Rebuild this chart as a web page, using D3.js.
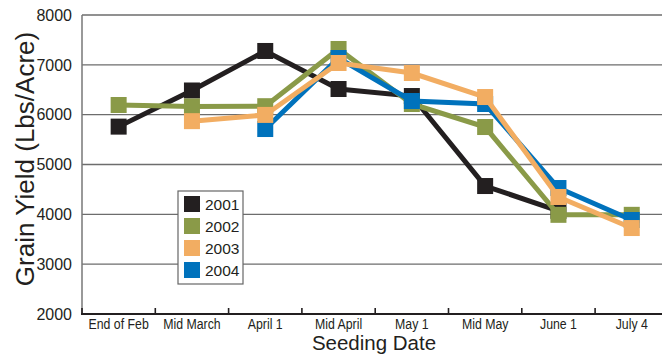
<!DOCTYPE html>
<html>
<head>
<meta charset="utf-8">
<script src="https://cdn.jsdelivr.net/npm/d3@7/dist/d3.min.js"></script>
<style>
  html, body { margin: 0; padding: 0; background: #fff; }
  svg { display: block; font-family: "Liberation Sans", Arial, sans-serif; }
</style>
</head>
<body>
<svg id="chart" width="662" height="354"></svg>
<script>
// Seeding dates on the x axis
const seedingDates = ["End of Feb", "Mid March", "April 1", "Mid April", "May 1", "Mid May", "June 1", "July 4"];

// Grain yield (lbs/acre) per year; null = not seeded on that date
const yield2001 = [5760, 6485, 7278, 6515, 6374, 4568, 4070, null];
const yield2002 = [6194, 6164, 6170, 7318, 6214, 5752, 3990, 3990];
const yield2003 = [null, 5870, 5995, 7037, 6836, 6354, 4348, 3725];
const yield2004 = [null, null, 5712, 7137, 6274, 6214, 4528, 3886];

const years = ["2001", "2002", "2003", "2004"];
const yTicks = [2000, 3000, 4000, 5000, 6000, 7000, 8000];

const series = [
  { name: years[0], values: yield2001, color: "#231f20" },
  { name: years[1], values: yield2002, color: "#8a9a48" },
  { name: years[2], values: yield2003, color: "#f2ad62" },
  { name: years[3], values: yield2004, color: "#0072bc" }
];
// paint order: orange sits on top of blue
const drawOrder = [series[0], series[1], series[3], series[2]];

const svg = d3.select("#chart");
const plotLeft = 82, plotRight = 668.4, plotTop = 15, plotBottom = 314;

const x = d3.scaleBand().domain(seedingDates).range([plotLeft, plotRight]);
const y = d3.scaleLinear().domain([2000, 8000]).range([plotBottom, plotTop]);

// horizontal grid lines
svg.append("g")
  .selectAll("line")
  .data(yTicks.filter(t => t > 2000))
  .join("line")
  .attr("x1", plotLeft).attr("x2", 662)
  .attr("y1", d => y(d)).attr("y2", d => y(d))
  .attr("stroke", "#6d6d6d").attr("stroke-width", 1.3);

// left axis line
svg.append("line")
  .attr("x1", plotLeft).attr("x2", plotLeft)
  .attr("y1", plotTop).attr("y2", plotBottom)
  .attr("stroke", "#777").attr("stroke-width", 1.5);

// y tick labels
svg.append("g")
  .selectAll("text")
  .data(yTicks)
  .join("text")
  .attr("x", 72).attr("y", d => y(d))
  .attr("dy", "0.36em")
  .attr("text-anchor", "end")
  .attr("font-size", 16)
  .attr("fill", "#231f20")
  .text(d => d);

// x axis with ticks at category boundaries
const xAxis = svg.append("g").attr("transform", `translate(0,${plotBottom})`);
xAxis.append("line")
  .attr("x1", plotLeft - 1).attr("x2", 662)
  .attr("stroke", "#231f20").attr("stroke-width", 2);
xAxis.selectAll("line.tick")
  .data(seedingDates)
  .join("line")
  .attr("class", "tick")
  .attr("x1", d => x(d)).attr("x2", d => x(d))
  .attr("y1", 0).attr("y2", -6)
  .attr("stroke", "#231f20").attr("stroke-width", 1.6);
xAxis.selectAll("text")
  .data(seedingDates)
  .join("text")
  .attr("transform", d => `translate(${x(d) + x.bandwidth() / 2},15) scale(0.85,1)`)
  .attr("text-anchor", "middle")
  .attr("font-size", 14.5)
  .attr("fill", "#231f20")
  .text(d => d);

// axis titles
svg.append("text")
  .attr("transform", `translate(34,159) rotate(-90)`)
  .attr("text-anchor", "middle")
  .attr("font-size", 26)
  .attr("fill", "#231f20")
  .text("Grain Yield (Lbs/Acre)");

svg.append("text")
  .attr("x", 374).attr("y", 350)
  .attr("text-anchor", "middle")
  .attr("font-size", 20.5)
  .attr("fill", "#231f20")
  .text("Seeding Date");

// lines and square markers
const cx = d => x(d) + x.bandwidth() / 2;
const line = d3.line()
  .defined(d => d.v != null)
  .x(d => cx(d.c))
  .y(d => y(d.v));

const sz = 16;
drawOrder.forEach(s => {
  const pts = seedingDates.map((c, i) => ({ c, v: s.values[i] }));
  const g = svg.append("g");
  g.append("path")
    .datum(pts)
    .attr("d", line)
    .attr("fill", "none")
    .attr("stroke", s.color)
    .attr("stroke-width", 5)
    .attr("stroke-linejoin", "miter");
  g.selectAll("rect")
    .data(pts.filter(p => p.v != null))
    .join("rect")
    .attr("x", p => cx(p.c) - sz / 2)
    .attr("y", p => y(p.v) - sz / 2)
    .attr("width", sz).attr("height", sz)
    .attr("fill", s.color);
});

// legend
const legend = svg.append("g").attr("transform", "translate(178,191)");
legend.append("rect")
  .attr("width", 65).attr("height", 93)
  .attr("fill", "#fff")
  .attr("stroke", "#666").attr("stroke-width", 1.2);
const item = legend.selectAll("g.item")
  .data(series)
  .join("g")
  .attr("class", "item")
  .attr("transform", (d, i) => `translate(6,${5 + i * 22})`);
item.append("rect")
  .attr("width", 16).attr("height", 16)
  .attr("fill", d => d.color);
item.append("text")
  .attr("x", 21).attr("y", 14)
  .attr("font-size", 15.5)
  .attr("fill", "#231f20")
  .text(d => d.name);
</script>
</body>
</html>
